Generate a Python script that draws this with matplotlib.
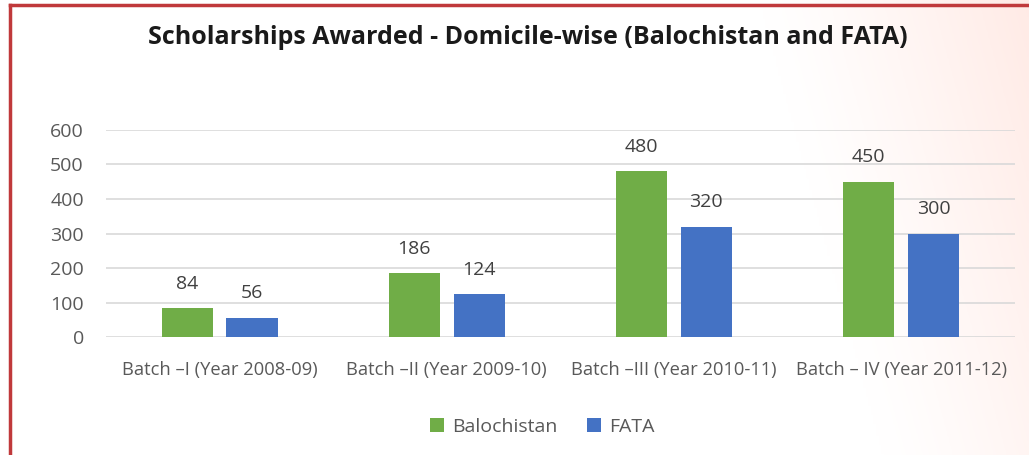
import matplotlib.pyplot as plt
import numpy as np

plt.rcParams['font.family'] = ['Open Sans', 'DejaVu Sans']

categories = ['Batch –I (Year 2008-09)', 'Batch –II (Year 2009-10)',
              'Batch –III (Year 2010-11)', 'Batch – IV (Year 2011-12)']
balochistan = [84, 186, 480, 450]
fata = [56, 124, 320, 300]

green = '#70ad47'
blue = '#4472c4'
grey = '#595959'

fig = plt.figure(figsize=(10.29, 4.55), dpi=100)

# pinkish gradient background on the right
bg = fig.add_axes([0, 0, 1, 1], zorder=-10)
bg.axis('off')
xx, yy = np.meshgrid(np.linspace(0, 1, 400), np.linspace(0, 1, 200))
t = np.clip((xx - 0.74 - 0.12 * (1 - yy)) / 0.26, 0, 1) ** 1.2
img = np.ones((200, 400, 3))
img[..., 1] = 1 - 0.08 * t
img[..., 2] = 1 - 0.10 * t
bg.imshow(img, extent=[0, 1, 0, 1], aspect='auto', origin='lower')
bg.set_xlim(0, 1)
bg.set_ylim(0, 1)

# red frame (left and top)
fig.add_artist(plt.Line2D([0.0095, 0.0095], [0, 0.99], color='#c0393b', lw=2.5))
fig.add_artist(plt.Line2D([0.0095, 1], [0.99, 0.99], color='#c0393b', lw=2.5))

ax = fig.add_axes([0.103, 0.2593, 0.883, 0.455])
ax.patch.set_alpha(0)
x = np.arange(len(categories))
w = 0.225
off = 0.143
b1 = ax.bar(x - off, balochistan, w, color=green, label='Balochistan', zorder=3)
b2 = ax.bar(x + off, fata, w, color=blue, label='FATA', zorder=3)
for bars in (b1, b2):
    ax.bar_label(bars, padding=11, fontsize=14, color='#404040')

ax.set_xlim(-0.5, 3.5)
ax.set_ylim(0, 600)
ax.set_yticks(range(0, 601, 100))
ax.yaxis.grid(True, color='#d9d9d9', lw=1.2, zorder=0)
for s in ax.spines.values():
    s.set_visible(False)
ax.tick_params(axis='both', length=0, colors=grey, labelsize=14)
ax.tick_params(axis='y', pad=16)
ax.tick_params(axis='x', pad=17)
ax.set_xticks(x)
ax.set_xticklabels(categories, fontsize=13.2)

fig.text(0.513, 0.918, 'Scholarships Awarded - Domicile-wise (Balochistan and FATA)',
         ha='center', va='center', fontsize=18, fontweight='bold', color='#1a1a1a')

fig.legend(loc='center', bbox_to_anchor=(0.527, 0.062), ncol=2, frameon=False,
           fontsize=14, handlelength=0.75, handleheight=0.75, columnspacing=1.5,
           handletextpad=0.4, labelcolor=grey)

fig.savefig('out.png', dpi=100)
